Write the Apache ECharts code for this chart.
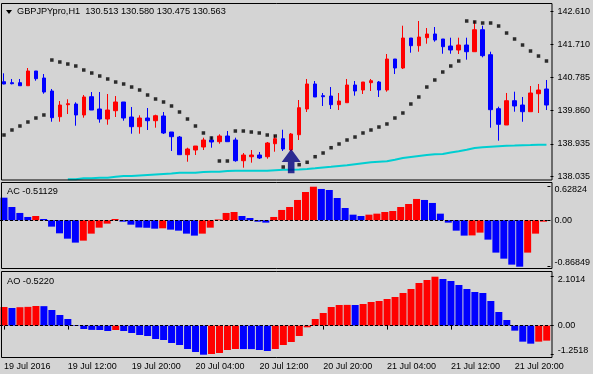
<!DOCTYPE html>
<html>
<head>
<meta charset="utf-8">
<script src="https://cdn.jsdelivr.net/npm/echarts@6/dist/echarts.min.js"></script>
<style>
html,body{margin:0;padding:0;background:#d4d4d4;}
#chart{width:593px;height:374px;}
</style>
</head>
<body>
<div id="chart"></div>
<script>
// ---------- DATA ----------
const timeLabels = ['19 Jul 2016','19 Jul 12:00','19 Jul 20:00','20 Jul 04:00','20 Jul 12:00','20 Jul 20:00','21 Jul 04:00','21 Jul 12:00','21 Jul 20:00'];
const categories = Array.from({length: 69}, (_, i) => String(i));

// [open, close, low, high]
const candles = [
[140.666,140.602,140.593,140.899],[140.638,140.610,140.593,140.741],[140.638,140.554,140.554,140.741],
[140.554,140.963,140.554,141.046],[140.963,140.749,140.693,140.963],[140.768,140.379,140.332,140.879],
[140.407,139.666,139.554,140.463],[139.693,140.018,139.554,140.129],[140.027,140.054,139.768,140.177],
[140.046,139.741,139.443,140.093],[139.741,140.241,139.666,140.296],[140.249,139.879,139.879,140.379],
[139.907,139.629,139.527,140.379],[139.629,139.879,139.471,140.324],[139.860,140.102,139.685,140.268],
[140.102,139.657,139.582,140.102],[139.685,139.416,139.221,139.963],[139.416,139.657,139.221,139.732],
[139.657,139.582,139.324,139.935],[139.582,139.721,139.388,139.749],[139.713,139.241,139.213,139.824],
[139.268,139.138,138.741,139.268],[139.129,138.638,138.638,139.157],[138.638,138.796,138.443,138.832],
[138.768,138.879,138.629,138.879],[138.852,139.046,138.768,139.110],[139.046,138.991,138.832,139.138],
[138.999,139.157,138.943,139.204],[139.157,138.999,138.999,139.296],[139.046,138.471,138.443,139.110],
[138.471,138.629,138.277,138.685],[138.582,138.629,138.416,138.768],[138.629,138.546,138.518,138.713],
[138.582,138.963,138.527,138.991],[138.943,139.082,138.721,139.185],[139.082,138.796,138.741,139.332],
[138.768,139.213,138.741,139.241],[139.193,139.943,139.046,140.157],[139.907,140.602,139.824,140.741],
[140.602,140.241,140.241,140.685],[140.277,140.249,139.991,140.352],[140.268,140.027,139.907,140.518],
[140.027,140.129,139.879,140.352],[140.082,140.574,140.082,140.741],[140.574,140.407,140.277,140.685],
[140.435,140.657,140.324,140.657],[140.638,140.693,140.407,140.741],[140.657,140.435,140.241,140.685],
[140.435,141.296,140.388,141.435],[141.296,141.046,140.879,141.296],[141.046,141.879,141.018,142.221],
[141.879,141.666,141.471,141.879],[141.666,141.907,141.499,142.352],[141.888,141.991,141.721,142.157],
[141.991,141.824,141.777,142.185],[141.852,141.638,141.443,141.852],[141.657,141.546,141.443,141.888],
[141.546,141.685,141.435,141.888],[141.685,141.499,141.277,141.888],[141.499,142.110,141.499,142.360],
[142.110,141.388,141.343,142.221],[141.416,139.888,139.388,141.499],[139.916,139.482,139.027,139.971],
[139.463,140.138,139.463,140.352],[140.138,139.991,139.832,140.388],[140.018,139.832,139.554,140.241],
[139.832,140.352,139.832,140.546],[140.332,140.435,139.796,140.602],[140.463,140.018,139.879,140.713]
];

const sarValues = [
139.185,139.324,139.435,139.546,139.657,139.741,141.268,141.213,141.157,141.102,
140.991,140.907,140.824,140.741,140.657,140.602,140.518,140.435,140.296,140.185,
140.102,139.991,139.824,139.629,139.435,139.241,139.102,138.463,138.463,139.296,
139.296,139.268,139.241,139.185,139.157,138.296,null,138.360,138.427,138.582,
138.685,138.832,138.935,139.046,139.129,139.241,139.324,139.407,139.491,139.657,
139.796,140.046,140.241,140.518,140.713,140.935,141.102,141.241,142.352,142.324,
142.296,142.296,142.213,142.018,141.852,141.685,141.518,141.379,141.241
];

const maValues = [
null,null,null,null,null,null,null,null,137.954,137.954,
137.982,137.982,137.999,137.999,138.027,138.046,138.046,138.060,138.074,138.088,
138.102,138.116,138.138,138.138,138.138,138.157,138.166,138.166,138.185,138.193,
138.193,138.193,138.193,138.193,138.207,138.221,138.221,138.227,138.241,138.260,
138.282,138.302,138.324,138.343,138.371,138.399,138.427,138.441,138.454,138.499,
138.546,138.574,138.602,138.629,138.649,138.657,138.699,138.732,138.777,138.824,
138.843,138.860,138.874,138.888,138.893,138.902,138.907,138.913,138.916
];

const signalIndex = 36;
const signalPrice = 138.457;

const acValues = [
0.423,0.249,0.137,0.062,0.080,0.024,-0.119,-0.244,-0.344,-0.418,
-0.381,-0.250,-0.138,-0.063,0.024,-0.026,-0.082,-0.135,-0.140,-0.157,
-0.150,-0.175,-0.194,-0.250,-0.287,-0.250,-0.138,0.015,0.137,0.155,
0.080,0.043,-0.026,-0.044,0.062,0.193,0.249,0.380,0.529,0.62824,
0.586,0.567,0.417,0.230,0.105,0.080,0.105,0.124,0.155,0.174,
0.249,0.305,0.399,0.380,0.324,0.124,-0.044,-0.194,-0.287,-0.283,
-0.231,-0.362,-0.605,-0.718,-0.830,-0.86849,-0.605,-0.250,-0.026
];
// 1 = rising (red), 0 = falling (blue)
const acUp = [
0,0,0,0,1,0,0,0,0,0, 1,1,1,1,1,0,0,0,0,0, 1,0,0,0,0,1,1,1,1,1,
0,0,0,0,1,1,1,1,1,1, 0,0,0,0,0,0,1,1,1,1, 1,1,1,0,0,0,0,0,0,1,
1,0,0,0,0,0,1,1,1
];

const aoValues = [
0.800,0.757,0.790,0.805,0.843,0.835,0.671,0.456,0.284,0.026,
-0.146,-0.185,-0.190,-0.232,-0.189,-0.232,-0.318,-0.404,-0.447,-0.576,
-0.619,-0.748,-0.834,-1.006,-1.135,-1.2518,-1.221,-1.178,-1.049,-1.006,
-1.010,-1.012,-1.049,-1.092,-1.006,-0.834,-0.705,-0.447,-0.075,0.284,
0.542,0.800,0.886,0.890,0.884,0.929,1.015,1.058,1.144,1.229,
1.401,1.573,1.831,1.960,2.1014,2.003,1.917,1.745,1.573,1.445,
1.401,1.058,0.585,0.241,-0.218,-0.691,-0.777,-0.691,-0.648
];
const aoUp = [
1,0,1,1,1,0,0,0,0,0, 0,0,0,0,1,0,0,0,0,0, 0,0,0,0,0,0,1,1,1,1,
0,0,0,0,1,1,1,1,1,1, 1,1,1,1,0,1,1,1,1,1, 1,1,1,1,1,0,0,0,0,0,
0,0,0,0,0,0,0,1,1
];

const priceTicks = [138.035, 138.935, 139.860, 140.785, 141.710, 142.610];
const acTicks = [-0.86849, 0, 0.62824];
const acTickLabels = ['-0.86849', '0.00', '0.62824'];
const aoTicks = [-1.2518, 0, 2.1014];
const aoTickLabels = ['-1.2518', '0.00', '2.1014'];

const titleText = 'GBPJPYpro,H1  130.513 130.580 130.475 130.563';
const acTitle = 'AC -0.51129';
const aoTitle = 'AO -0.5220';

// ---------- STYLE ----------
const FONT = 'Liberation Sans, Arial, sans-serif';
const RED = '#ff0000', BLUE = '#0000ff';

function edgeLabel(ticks, labels) {
  return function (v) {
    let i = ticks.indexOf(v);
    if (i < 0) return '';
    if (i === 0) return '{b|' + labels[i] + '}';
    if (i === ticks.length - 1) return '{t|' + labels[i] + '}';
    return labels[i];
  };
}
const richEdge = {
  t: {fontSize: 9, fontFamily: FONT, color: '#000', padding: [6, 0, 0, 0]},
  b: {fontSize: 9, fontFamily: FONT, color: '#000', padding: [0, 0, 9, 0]}
};

const chart = echarts.init(document.getElementById('chart'), null, {renderer: 'canvas'});

const gridL = -1.3, gridW = 552;
const option = {
  backgroundColor: '#d4d4d4',
  animation: false,
  grid: [
    {left: gridL, width: gridW, top: 3, height: 177},
    {left: gridL, width: gridW, top: 186.7, height: 80},
    {left: gridL, width: gridW, top: 276.7, height: 78}
  ],
  xAxis: [0, 1, 2].map(i => ({
    type: 'category', gridIndex: i, data: categories, boundaryGap: true,
    axisLine: {show: false},
    offset: i === 2 ? 2.6 : 0,
    axisTick: i === 2 ? {show: true, alignWithLabel: true, length: 4, lineStyle: {color: '#000'},
      interval: (idx) => idx % 8 === 0} : {show: false},
    axisLabel: i === 2 ? {show: true, interval: (idx) => idx % 8 === 0, align: 'left',
      margin: 5, fontSize: 9, fontFamily: FONT, color: '#000',
      formatter: (v, idx) => timeLabels[Math.round(idx / 8)] } : {show: false},
    splitLine: {show: false}
  })),
  yAxis: [
    {type: 'value', gridIndex: 0, position: 'right', min: 137.935, max: 142.852, scale: true,
     axisLine: {show: false}, splitLine: {show: false},
     axisTick: {show: true, length: 3, customValues: priceTicks, lineStyle: {color: '#000'}},
     axisLabel: {customValues: priceTicks, margin: 7, fontSize: 9, fontFamily: FONT, color: '#000',
       formatter: v => v.toFixed(3)}},
    {type: 'value', gridIndex: 1, position: 'right', min: -0.86849, max: 0.62824,
     axisLine: {show: false}, splitLine: {show: false},
     axisTick: {show: true, length: 3, customValues: acTicks, lineStyle: {color: '#000'}},
     axisLabel: {customValues: acTicks, margin: 7, fontSize: 9, fontFamily: FONT, color: '#000',
       formatter: edgeLabel(acTicks, acTickLabels), rich: richEdge}},
    {type: 'value', gridIndex: 2, position: 'right', min: -1.2518, max: 2.1014,
     axisLine: {show: false}, splitLine: {show: false},
     axisTick: {show: true, length: 3, customValues: aoTicks, lineStyle: {color: '#000'}},
     axisLabel: {customValues: aoTicks, margin: 7, fontSize: 9, fontFamily: FONT, color: '#000',
       formatter: edgeLabel(aoTicks, aoTickLabels), rich: richEdge}}
  ],
  series: [
    {type: 'line', xAxisIndex: 0, yAxisIndex: 0, data: maValues, symbol: 'none',
     lineStyle: {color: '#00ced1', width: 2}, z: 2, silent: true},
    {type: 'candlestick', xAxisIndex: 0, yAxisIndex: 0, data: candles, barWidth: 4,
     itemStyle: {color: RED, color0: BLUE, borderColor: RED, borderColor0: BLUE, borderWidth: 1}, z: 3},
    {type: 'scatter', xAxisIndex: 0, yAxisIndex: 0, data: sarValues, symbol: 'rect', symbolSize: 3.5,
     itemStyle: {color: '#000'}, z: 4, silent: true},
    {type: 'scatter', xAxisIndex: 0, yAxisIndex: 0,
     data: categories.map((c, i) => i === signalIndex ? signalPrice : null),
     symbol: 'path://M9.5,0 L19,13 L12.8,13 L12.8,24.3 L6.2,24.3 L6.2,13 L0,13 Z',
     symbolSize: [19, 24.3], itemStyle: {color: '#000080'}, z: 6, silent: true},
    {type: 'bar', xAxisIndex: 1, yAxisIndex: 1, data: acValues, barWidth: 7,
     itemStyle: {color: p => acUp[p.dataIndex] ? RED : BLUE}, silent: true,
     markLine: {silent: true, symbol: 'none', label: {show: false},
       lineStyle: {color: '#000', type: [3, 2], width: 1}, data: [{yAxis: 0}], z: 5}},
    {type: 'bar', xAxisIndex: 2, yAxisIndex: 2, data: aoValues, barWidth: 7,
     itemStyle: {color: p => aoUp[p.dataIndex] ? RED : BLUE}, silent: true,
     markLine: {silent: true, symbol: 'none', label: {show: false},
       lineStyle: {color: '#000', type: [3, 2], width: 1}, data: [{yAxis: 0}], z: 5}}
  ],
  graphic: [
    {type: 'rect', shape: {x: 1.5, y: 3.5, width: 550.5, height: 176.5}, style: {fill: null, stroke: '#000', lineWidth: 1}, z: 100, silent: true},
    {type: 'rect', shape: {x: 1.5, y: 182.5, width: 550.5, height: 86}, style: {fill: null, stroke: '#000', lineWidth: 1}, z: 100, silent: true},
    {type: 'rect', shape: {x: 1.5, y: 271.5, width: 550.5, height: 86}, style: {fill: null, stroke: '#000', lineWidth: 1}, z: 100, silent: true},
    {type: 'polygon', shape: {points: [[6, 10], [12, 10], [9, 14]]}, style: {fill: '#000'}, z: 100, silent: true},
    {type: 'text', left: 17, top: 7, style: {text: titleText, fontSize: 9.2, fontFamily: FONT, fill: '#000'}, z: 100, silent: true},
    {type: 'text', left: 7, top: 187, style: {text: acTitle, fontSize: 9.2, fontFamily: FONT, fill: '#000'}, z: 100, silent: true},
    {type: 'text', left: 7, top: 277, style: {text: aoTitle, fontSize: 9.2, fontFamily: FONT, fill: '#000'}, z: 100, silent: true}
  ]
};
chart.setOption(option);
</script>
</body>
</html>
